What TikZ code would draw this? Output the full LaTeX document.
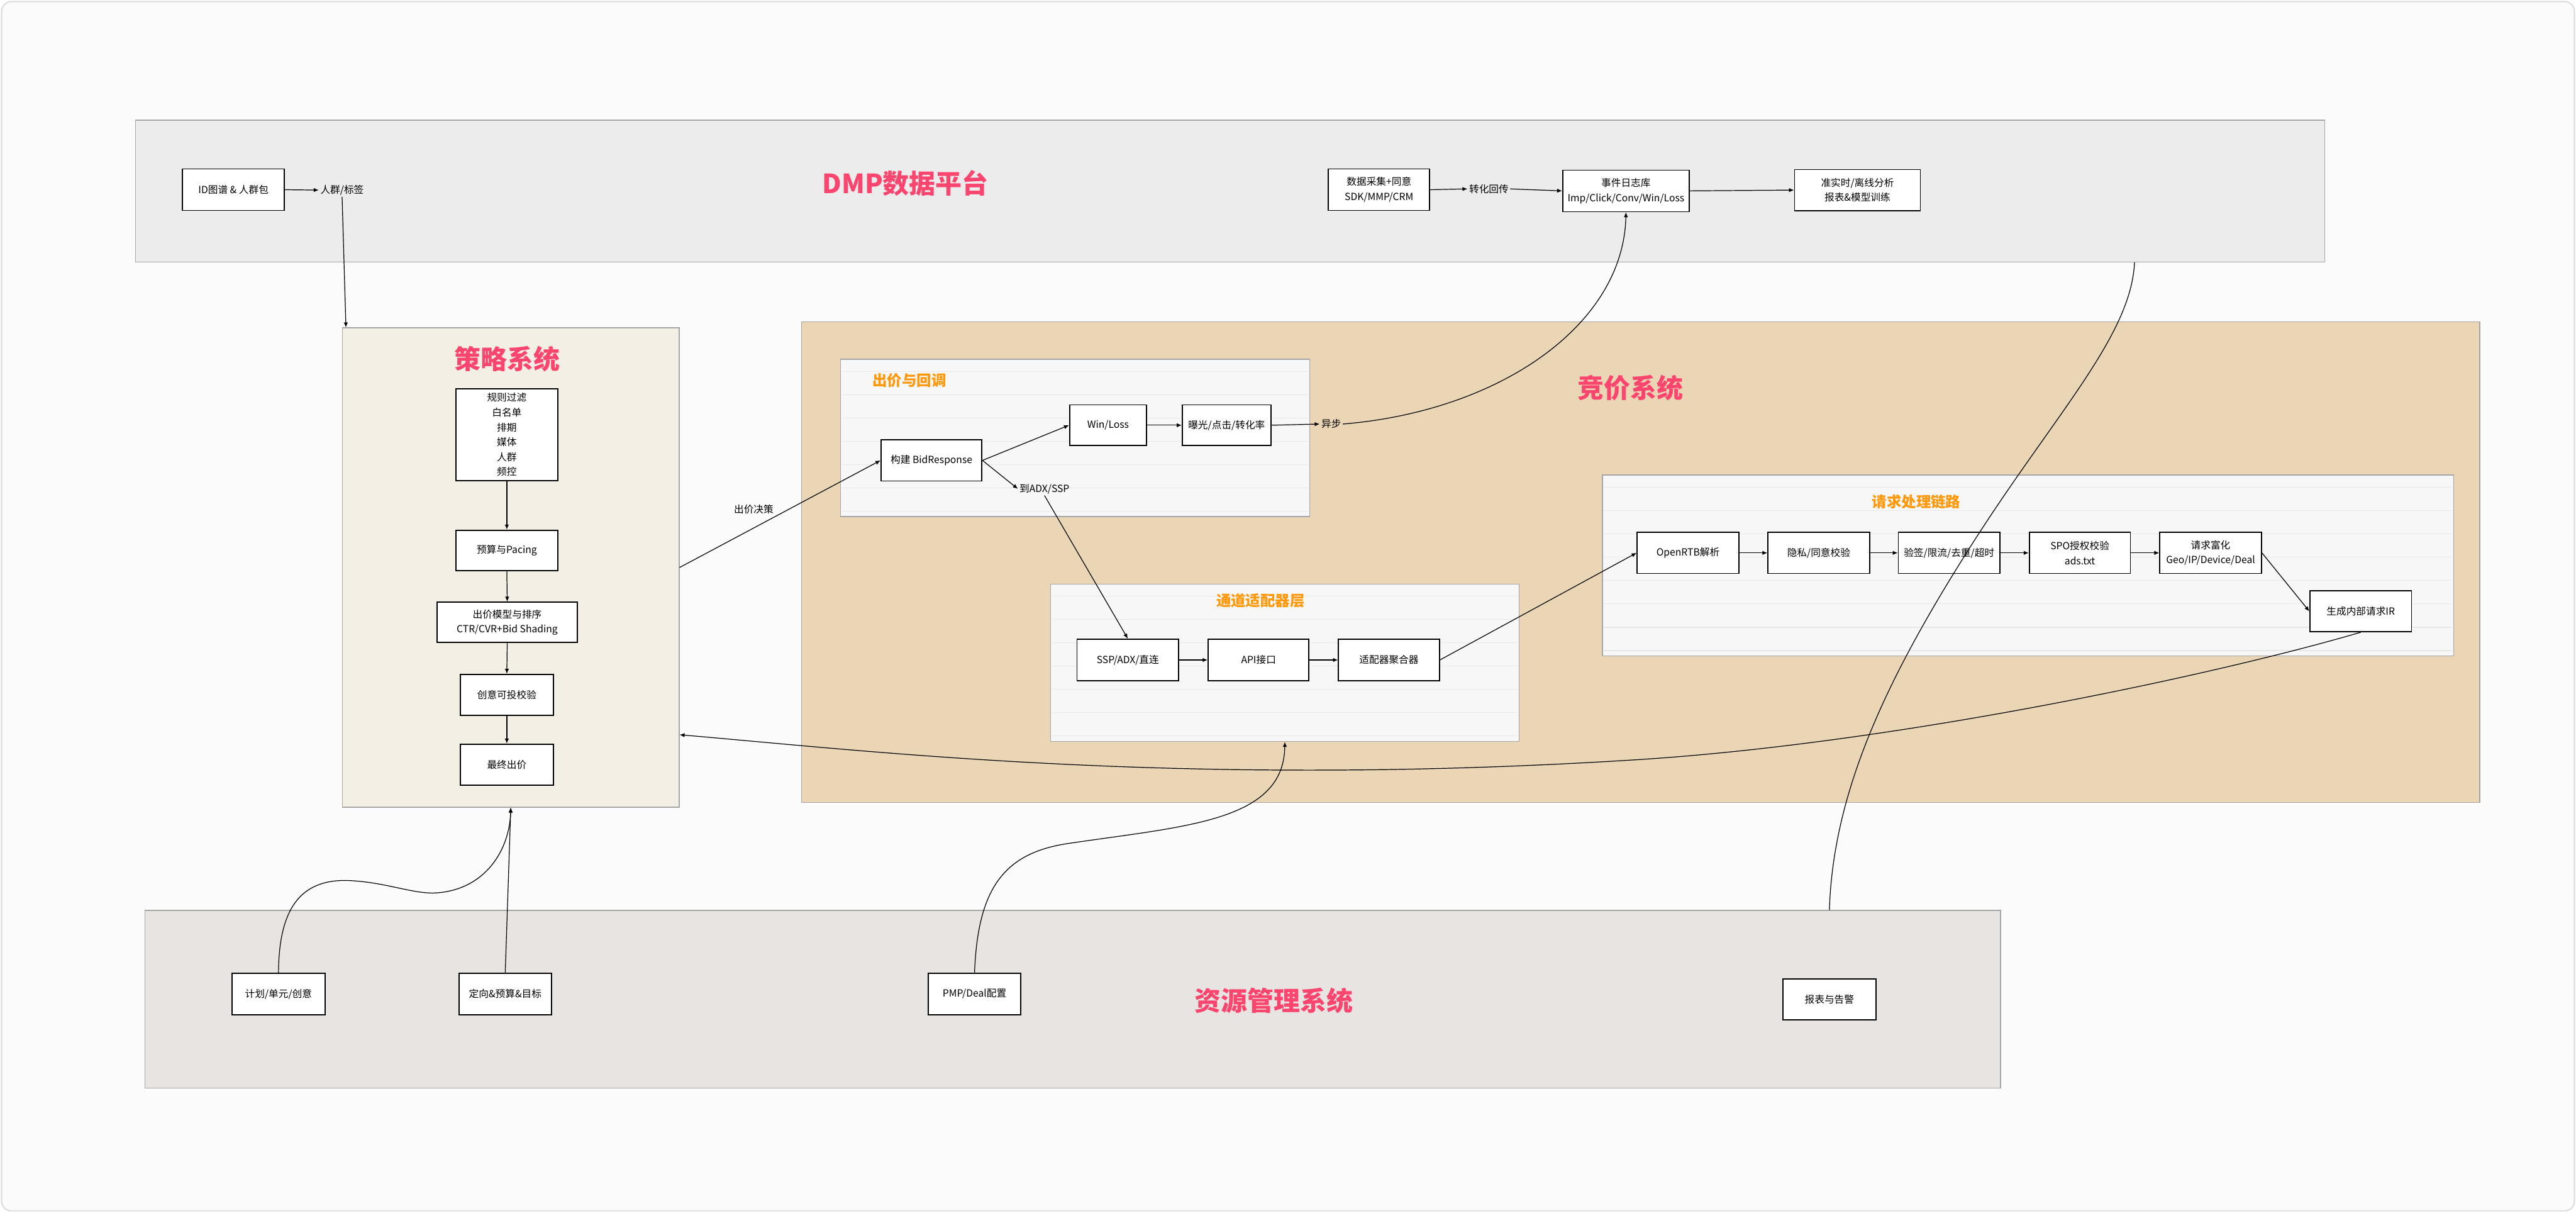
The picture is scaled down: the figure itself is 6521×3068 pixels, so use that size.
\documentclass[tikz,border=0pt]{standalone}
\usepackage{fontspec}
\setmainfont{Noto Sans CJK SC}
\usetikzlibrary{arrows.meta,calc}
\definecolor{bgc}{RGB}{251,251,251}
\definecolor{framec}{RGB}{222,222,222}
\definecolor{dmpc}{RGB}{236,236,236}
\definecolor{stratc}{RGB}{243,239,228}
\definecolor{woodc}{RGB}{234,214,180}
\definecolor{subc}{RGB}{247,247,247}
\definecolor{resc}{RGB}{232,228,225}
\definecolor{panelline}{RGB}{165,165,165}
\definecolor{rulec}{RGB}{232,232,232}
\definecolor{titlec}{RGB}{250,70,110}
\definecolor{subtc}{RGB}{255,152,10}
\begin{document}
\begin{tikzpicture}[x=0.01cm,y=-0.01cm,
  box/.style={draw=black, fill=white, line width=0.8pt, align=center, inner sep=1pt,
    font=\fontsize{7.1}{10.7}\selectfont},
  panel/.style={draw=panelline, line width=0.6pt, inner sep=0pt},
  rulel/.style={draw=rulec, line width=0.6pt},
  bigtitle/.style={text=titlec, font=\fontsize{19}{22}\selectfont\bfseries, inner sep=0pt},
  subtitle/.style={text=subtc, font=\fontsize{10.6}{12}\selectfont\bfseries, inner sep=0pt},
  lbl/.style={font=\fontsize{7.1}{9}\selectfont, inner sep=1pt},
  arr/.style={-{Latex[length=3.6pt,width=3pt]}, line width=0.55pt},
  plainline/.style={line width=0.55pt}]
\useasboundingbox (0,0) rectangle (6521,3068);
\draw[draw=framec, line width=1pt, fill=bgc, rounded corners=0.25cm] (4,4) rectangle (6517,3064);

% panels
\node[panel, fill=dmpc, minimum width=55.38cm, minimum height=3.59cm] (dmp) at (3114,483.5) {};
\node[panel, fill=stratc, minimum width=8.52cm, minimum height=12.12cm] (strat) at (1293,1436) {};
\node[panel, fill=woodc, minimum width=42.46cm, minimum height=12.15cm] (bid) at (4153,1422.5) {};
\node[panel, fill=resc, minimum width=46.95cm, minimum height=4.49cm] (res) at (2715.5,2528.5) {};
\node[panel, fill=subc, minimum width=11.87cm, minimum height=3.98cm] (sub1) at (2721.5,1108) {};
\node[panel, fill=subc, minimum width=11.85cm, minimum height=3.98cm] (sub2) at (3252.5,1677) {};
\node[panel, fill=subc, minimum width=21.54cm, minimum height=4.57cm] (sub3) at (5134,1430.5) {};

% ruled paper lines
\foreach \yy in {940,999,...,1300} \draw[rulel] (2131,\yy) -- (3312,\yy);
\foreach \yy in {1508,1567,...,1870} \draw[rulel] (2663,\yy) -- (3842,\yy);
\foreach \yy in {1233,1292,...,1650} \draw[rulel] (4060,\yy) -- (6208,\yy);

% titles
\node[bigtitle] (tdmp) at (2292,463) {DMP数据平台};
\node[bigtitle] (tstrat) at (1284,908) {策略系统};
\node[bigtitle] (tbid) at (4128,981) {竞价系统};
\node[bigtitle] (tres) at (3224,2532) {资源管理系统};
\node[subtitle] (ts1) at (2302,962) {出价与回调};
\node[subtitle] (ts2) at (3191,1519) {通道适配器层};
\node[subtitle] (ts3) at (4851,1270) {请求处理链路};

% DMP nodes
\node[box, minimum width=2.58cm, minimum height=1.05cm] (id) at (591,480) {ID图谱 \& 人群包};
\node[box, minimum width=2.56cm, minimum height=1.05cm] (collect) at (3491,480) {数据采集+同意\\SDK/MMP/CRM};
\node[box, minimum width=3.20cm, minimum height=1.05cm] (eventlog) at (4116,483) {事件日志库\\Imp/Click/Conv/Win/Loss};
\node[box, minimum width=3.18cm, minimum height=1.04cm] (analysis) at (4702,481) {准实时/离线分析\\报表\&模型训练};

% strategy nodes
\node[box, minimum width=2.57cm, minimum height=2.33cm] (rules) at (1283,1100) {规则过滤\\白名单\\排期\\媒体\\人群\\频控};
\node[box, minimum width=2.57cm, minimum height=1.03cm] (budget) at (1283,1393) {预算与Pacing};
\node[box, minimum width=3.55cm, minimum height=1.02cm] (model) at (1284,1575) {出价模型与排序\\CTR/CVR+Bid Shading};
\node[box, minimum width=2.36cm, minimum height=1.03cm] (creative) at (1283,1758) {创意可投校验};
\node[box, minimum width=2.36cm, minimum height=1.04cm] (final) at (1283,1935) {最终出价};

% bidding nodes
\node[box, minimum width=2.55cm, minimum height=1.04cm] (build) at (2358,1165) {构建 BidResponse};
\node[box, minimum width=1.95cm, minimum height=1.03cm] (winloss) at (2805,1076) {Win/Loss};
\node[box, minimum width=2.24cm, minimum height=1.03cm] (expo) at (3105,1076) {曝光/点击/转化率};
\node[box, minimum width=2.57cm, minimum height=1.05cm] (ssp) at (2855,1670) {SSP/ADX/直连};
\node[box, minimum width=2.55cm, minimum height=1.05cm] (api) at (3186,1670) {API接口};
\node[box, minimum width=2.55cm, minimum height=1.05cm] (agg) at (3516,1670) {适配器聚合器};
\node[box, minimum width=2.57cm, minimum height=1.04cm] (ortb) at (4273,1399) {OpenRTB解析};
\node[box, minimum width=2.57cm, minimum height=1.04cm] (privacy) at (4604,1399) {隐私/同意校验};
\node[box, minimum width=2.57cm, minimum height=1.04cm] (verify) at (4934,1399) {验签/限流/去重/超时};
\node[box, minimum width=2.56cm, minimum height=1.04cm] (spo) at (5265,1399) {SPO授权校验\\ads.txt};
\node[box, minimum width=2.57cm, minimum height=1.04cm] (enrich) at (5596,1399) {请求富化\\Geo/IP/Device/Deal};
\node[box, minimum width=2.57cm, minimum height=1.03cm] (gen) at (5976,1547) {生成内部请求IR};

% resource nodes
\node[box, minimum width=2.35cm, minimum height=1.05cm] (plan) at (705,2515) {计划/单元/创意};
\node[box, minimum width=2.34cm, minimum height=1.05cm] (target) at (1279,2515) {定向\&预算\&目标};
\node[box, minimum width=2.34cm, minimum height=1.05cm] (pmp) at (2467,2515) {PMP/Deal配置};
\node[box, minimum width=2.36cm, minimum height=1.04cm] (report) at (4631,2529) {报表与告警};

% edge labels
\node[lbl] (l1) at (866,481) {人群/标签};
\node[lbl] (l2) at (3769,478) {转化回传};
\node[lbl] (l3) at (1908,1289) {出价决策};
\node[lbl] (l4) at (3370,1073) {异步};
\node[lbl] (l5) at (2644,1237) {到ADX/SSP};

% connectors
\draw[arr] (id.east) -- (l1.west);
\draw[arr] (l1.south) -- ([xshift=0.1cm]strat.north west);
\draw[arr] (collect.east) -- (l2.west);
\draw[arr] (l2.east) -- (eventlog.west);
\draw[arr] (eventlog.east) -- (analysis.west);

\draw[arr] (rules.south) -- (budget.north);
\draw[arr] (budget.south) -- (model.north);
\draw[arr] (model.south) -- (creative.north);
\draw[arr] (creative.south) -- (final.north);

\draw[arr] (strat.east) -- (build.west);
\draw[arr] (build.east) -- (winloss.west);
\draw[arr] (winloss.east) -- (expo.west);
\draw[arr] (expo.east) -- (l4.west);
\draw[arr] (l4.east) .. controls (3800,1040) and (4110,820) .. (eventlog.south);
\draw[arr] (build.east) -- (l5.west);
\draw[arr] (l5.south) -- (ssp.north);
\draw[arr] (ssp.east) -- (api.west);
\draw[arr] (api.east) -- (agg.west);
\draw[arr] (agg.east) -- (ortb.west);
\draw[arr] (ortb.east) -- (privacy.west);
\draw[arr] (privacy.east) -- (verify.west);
\draw[arr] (verify.east) -- (spo.west);
\draw[arr] (spo.east) -- (enrich.west);
\draw[arr] (enrich.east) -- (gen.west);
\draw[arr] (gen.south) .. controls (5600,1710) and (4800,1880) .. (4150,1922)
  .. controls (3000,1995) and (2200,1900) .. ([yshift=-4.23cm]strat.east);

\draw[arr] (plan.north) .. controls (706,2300) and (760,2225) .. (880,2228)
  .. controls (980,2232) and (1050,2265) .. (1110,2259)
  .. controls (1230,2248) and (1290,2150) .. (strat.south);
\draw[arr] (target.north) -- (strat.south);
\draw[arr] (pmp.north) .. controls (2475,2250) and (2540,2160) .. (2700,2135)
  .. controls (3000,2090) and (3250,2080) .. (sub2.south);
\draw[plainline] ([xshift=22.88cm]dmp.south) .. controls (5395,850) and (5200,1050) .. (4990,1380)
  .. controls (4780,1710) and (4640,2000) .. (res.north -| report.north);
\end{tikzpicture}
\end{document}
